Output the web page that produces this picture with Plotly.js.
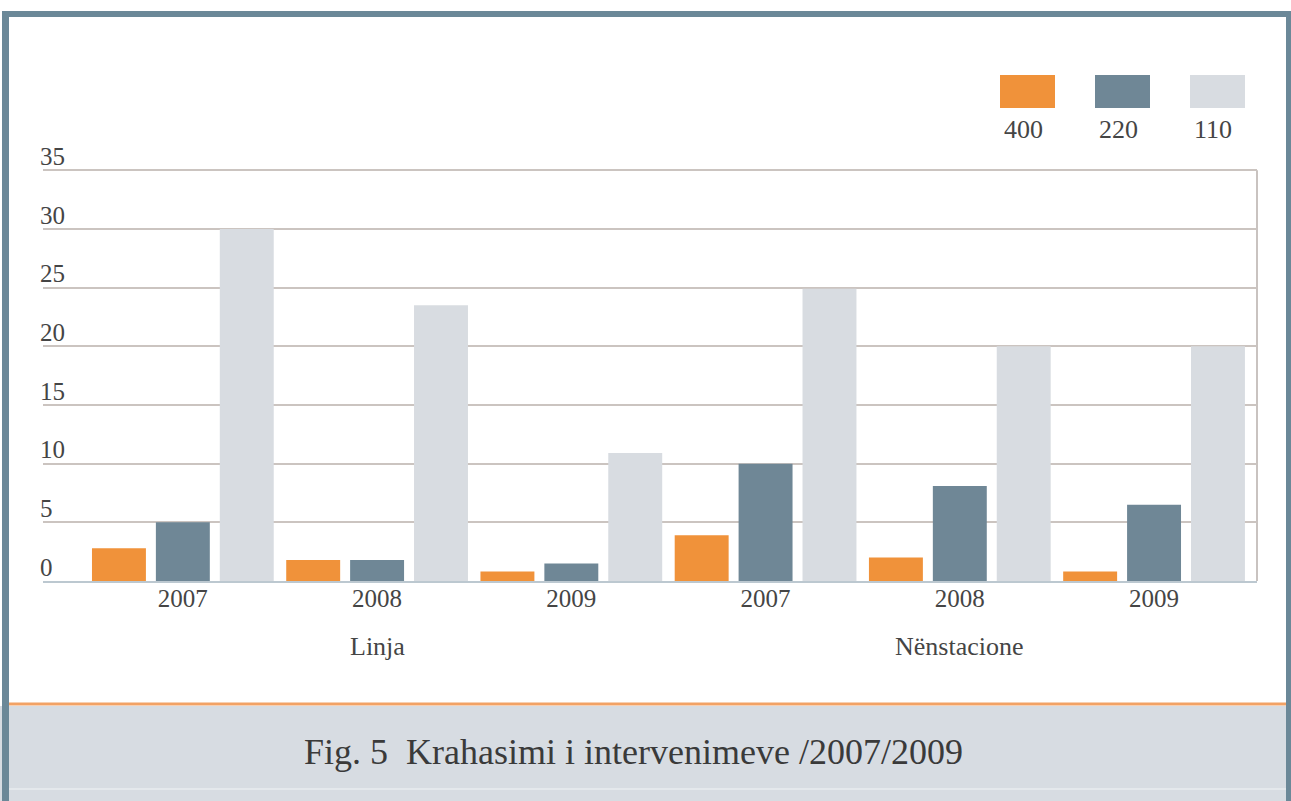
<!DOCTYPE html>
<html>
<head>
<meta charset="utf-8">
<script src="https://cdn.plot.ly/plotly-3.0.1.min.js"></script>
<style>
  html, body { margin: 0; padding: 0; background: #fff; }
  #chart { width: 1291px; height: 801px; }
</style>
</head>
<body>
<div id="chart"></div>
<script>
// Daten
const years = ["2007", "2008", "2009", "2007", "2008", "2009"];
const groups = ["Linja", "Nënstacione"];
const seriesNames = ["400", "220", "110"];
const v400 = [2.8, 1.8, 0.8, 3.9, 2.0, 0.8];
const v220 = [5.0, 1.8, 1.5, 10.0, 8.1, 6.5];
const v110 = [30.0, 23.5, 10.9, 24.9, 20.0, 20.0];
const yTicks = [0, 5, 10, 15, 20, 25, 30, 35];

const colors = ["#f0923a", "#6f8796", "#d8dce1"];
const W = 1291, H = 801;
const M = { l: 43, r: 34, t: 168, b: 220 };
const Y_RANGE = [0, 35.2];

// Pixel -> paper Koordinaten
const px = (x) => (x - M.l) / (W - M.l - M.r);
const py = (y) => (H - M.b - y) / (H - M.t - M.b);

const xs = years.map((_, i) => i);
const traces = [v400, v220, v110].map((vals, k) => ({
  type: "bar",
  x: xs,
  y: vals,
  name: seriesNames[k],
  marker: { color: colors[k], line: { width: 0 } },
  hoverinfo: "y+name",
}));

const font = "Liberation Serif, DejaVu Serif, serif";
const txtColor = "#454545";

// Legende: Kästchen oben, Zahl darunter
const legendX = [1000, 1095, 1190];
const shapes = [];
const annotations = [];
seriesNames.forEach((n, k) => {
  shapes.push({
    type: "rect", xref: "paper", yref: "paper",
    x0: px(legendX[k]), x1: px(legendX[k] + 55),
    y0: py(108), y1: py(75),
    fillcolor: colors[k], line: { width: 0 },
  });
  annotations.push({
    xref: "paper", yref: "paper",
    x: px(legendX[k] + 23), y: py(130),
    xanchor: "center", yanchor: "middle",
    text: n, showarrow: false,
    font: { family: font, size: 26, color: txtColor },
  });
});

// Gruppen-Beschriftung unter der mittleren Kategorie
groups.forEach((g, i) => {
  annotations.push({
    xref: "x", yref: "paper",
    x: i * 3 + 1, y: py(646),
    xanchor: "center", yanchor: "middle",
    text: g, showarrow: false,
    font: { family: font, size: 26, color: txtColor },
  });
});

// Bildunterschrift
annotations.push({
  xref: "paper", yref: "paper",
  x: px(633), y: py(752),
  xanchor: "center", yanchor: "middle",
  text: "Fig. 5  Krahasimi i intervenimeve /2007/2009",
  showarrow: false,
  font: { family: font, size: 36, color: "#3a3a3a" },
});

// Rahmen, rechte Achsenlinie, Fußleiste
shapes.push(
  { type: "rect", xref: "paper", yref: "paper", layer: "below",
    x0: px(0), x1: px(1291), y0: py(801), y1: py(706),
    fillcolor: "#d7dce2", line: { width: 0 } },
  { type: "line", xref: "paper", yref: "paper",
    x0: px(9), x1: px(1286), y0: py(704), y1: py(704),
    line: { color: "#f2a265", width: 3 } },
  { type: "line", xref: "paper", yref: "paper",
    x0: px(9), x1: px(1286), y0: py(789), y1: py(789),
    line: { color: "#e4e8ec", width: 2 } },
  { type: "rect", xref: "paper", yref: "paper",
    x0: px(2), x1: px(9), y0: py(801), y1: py(11),
    fillcolor: "#6b8898", line: { width: 0 } },
  { type: "rect", xref: "paper", yref: "paper",
    x0: px(1286), x1: px(1291), y0: py(801), y1: py(11),
    fillcolor: "#6b8898", line: { width: 0 } },
  { type: "rect", xref: "paper", yref: "paper",
    x0: px(2), x1: px(1291), y0: py(17), y1: py(11),
    fillcolor: "#6b8898", line: { width: 0 } },
  { type: "line", xref: "paper", yref: "y",
    x0: 1, x1: 1, y0: 0, y1: yTicks[yTicks.length - 1],
    line: { color: "#c9c3c0", width: 2 } }
);

Plotly.newPlot("chart", traces, {
  width: W,
  height: H,
  margin: M,
  paper_bgcolor: "#ffffff",
  plot_bgcolor: "#ffffff",
  showlegend: false,
  barmode: "group",
  bargap: 0.013,
  bargroupgap: 0.156,
  xaxis: {
    range: [-0.72, 5.53],
    tickvals: xs,
    ticktext: years,
    showgrid: false,
    zeroline: false,
    showline: true,
    linecolor: "#bcc8d0",
    linewidth: 2,
    ticks: "",
    ticklabelstandoff: -6,
    tickfont: { family: font, size: 25, color: txtColor },
  },
  yaxis: {
    range: Y_RANGE,
    tickvals: yTicks,
    showgrid: true,
    gridcolor: "#cbc4c0",
    gridwidth: 2,
    zeroline: false,
    showline: false,
    ticks: "",
    ticklabelposition: "inside",
    ticklabeloverflow: "allow",
    ticklabelstandoff: -6,
    ticklabelshift: -14,
    tickfont: { family: font, size: 25, color: txtColor },
  },
  shapes: shapes,
  annotations: annotations,
}, { displayModeBar: false, staticPlot: true });
</script>
</body>
</html>
